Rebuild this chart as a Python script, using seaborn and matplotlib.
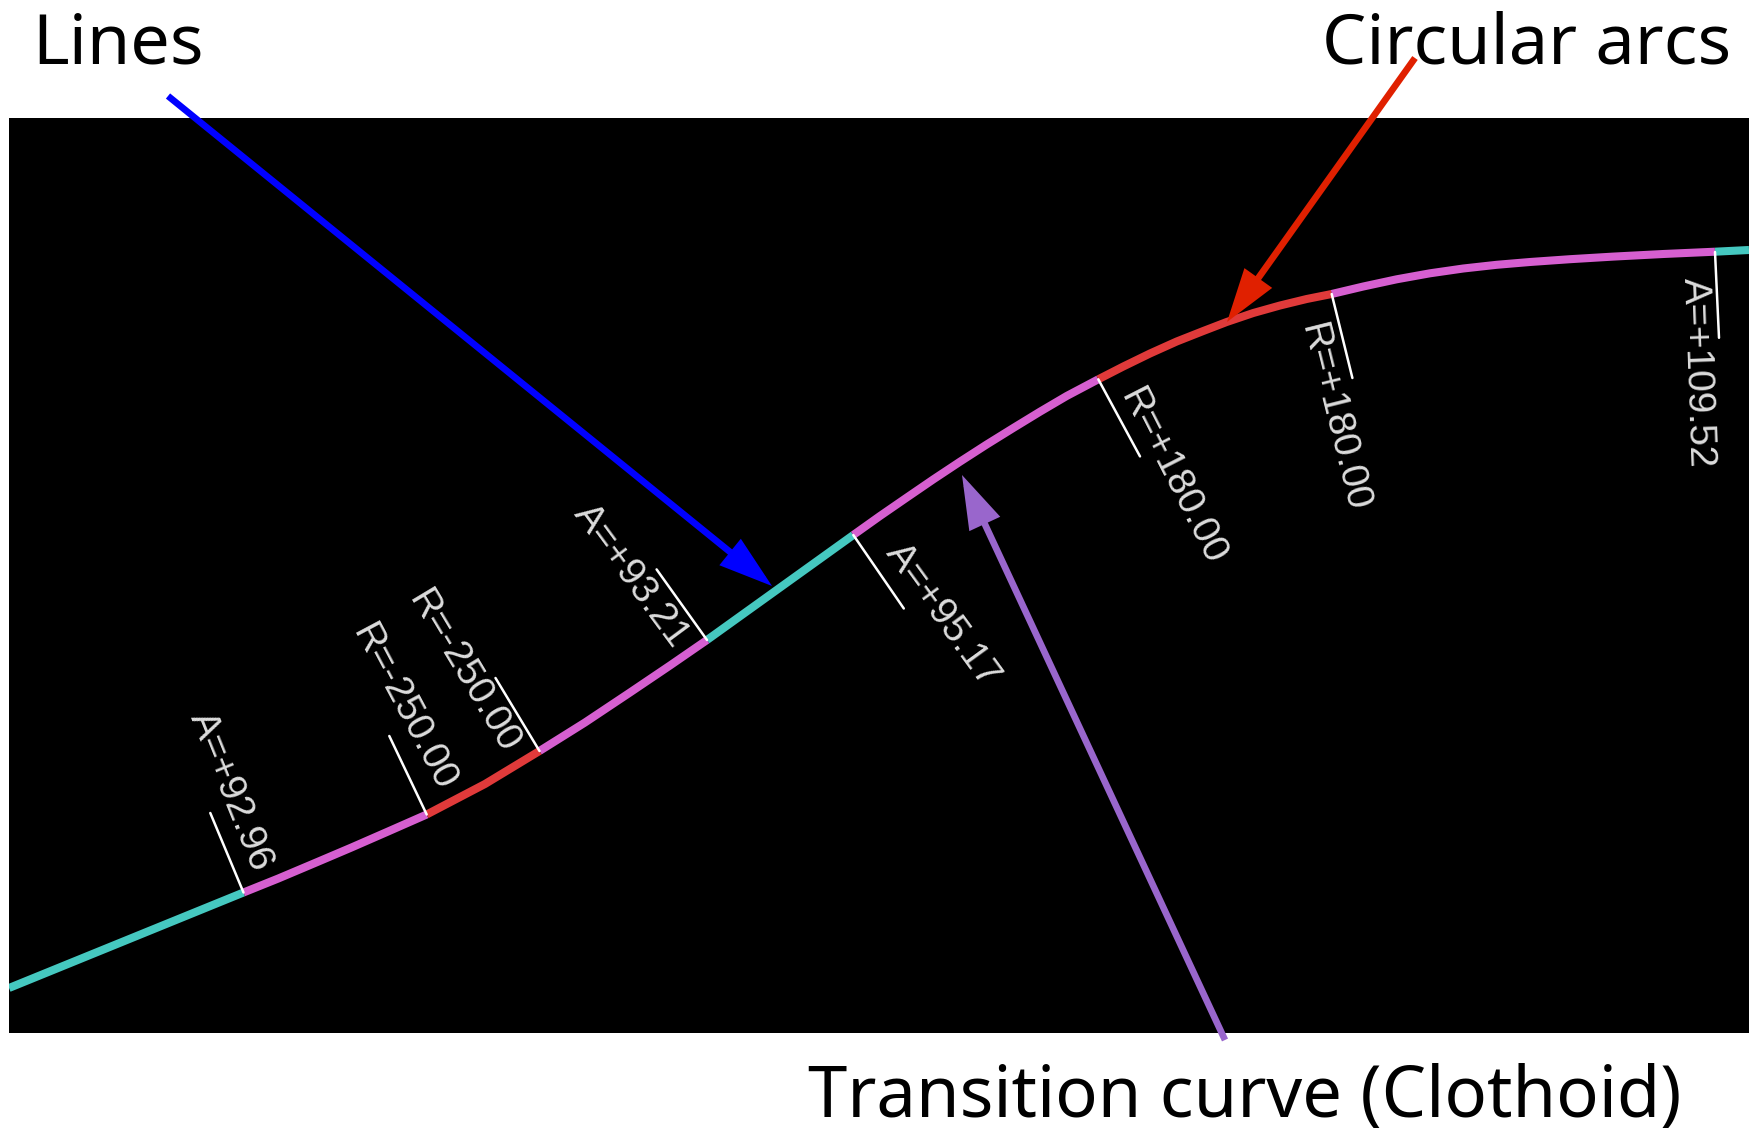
import pandas as pd
from matplotlib import pyplot as plt
import seaborn as sns

seg_kind = ["line", "clothoid", "arc", "clothoid", "line", "clothoid", "arc", "clothoid", "line"]
seg_x = [
    [9, 243.5],
    [243.5, 278.3, 318.3, 351.7, 388.3, 426.7],
    [426.7, 485, 539.5],
    [539.5, 585, 630, 670, 707],
    [707, 853.3],
    [853.3, 880, 906.7, 933.3, 960, 986.7, 1013.3, 1040, 1066.7, 1098.3],
    [1098.3, 1123.3, 1150, 1176.7, 1203.3, 1226.7, 1253.3, 1280, 1306.7, 1331.7],
    [1331.7, 1363.3, 1396.7, 1430, 1463.3, 1496.7, 1530, 1570, 1613.3, 1663.3, 1715],
    [1715, 1749],
]
seg_y = [
    [988, 892.5],
    [892.5, 878.5, 861.6, 847.4, 831.4, 814.5],
    [814.5, 784, 751],
    [751, 722.5, 692.5, 665.5, 640],
    [640, 535],
    [535, 516, 497.6, 479.4, 461.7, 444.5, 428, 411.7, 396, 379.3],
    [379.3, 366.5, 353.5, 341.5, 331, 322, 313, 305.5, 299, 294],
    [294, 286.5, 279.3, 273.3, 268.5, 264.8, 262, 259.2, 256.6, 254, 251.7],
    [251.7, 250],
]

label_text = ["A=+92.96", "R=-250.00", "R=-250.00", "A=+93.21", "A=+95.17", "R=+180.00", "R=+180.00", "A=+109.52"]
label_x = [231, 403, 463, 631, 942, 1172.5, 1334, 1697]
label_y = [791.5, 708, 672, 576, 615, 477, 418, 372.5]
label_rot = [-68, -62, -59, -53.5, -54, -63, -76, -88]
tick_x0 = [243.5, 426.7, 539.5, 707, 853.3, 1098.3, 1331.7, 1715]
tick_y0 = [892.5, 814.5, 751, 640, 535, 379.3, 294, 252]
tick_x1 = [210.3, 389.3, 495.5, 656.6, 903.8, 1140, 1352.4, 1719]
tick_y1 = [813, 736, 678, 569.4, 608.5, 456.4, 378, 337.8]

palette = {"line": "#45c8c0", "clothoid": "#d65fd0", "arc": "#e03a3a"}

rows = []
for i, kind in enumerate(seg_kind):
    for x, y in zip(seg_x[i], seg_y[i]):
        rows.append({"x": x, "y": y, "kind": kind, "segment": i})
curve_df = pd.DataFrame(rows)

sns.set_theme(style="white")
plt.rcParams["font.family"] = ["Noto Sans", "DejaVu Sans"]

fig = plt.figure(figsize=(17.54, 11.33), dpi=100, facecolor="white")
ax = fig.add_axes([9 / 1754, 1 - 1032.5 / 1133, 1740 / 1754, 915 / 1133])
ax.set_facecolor("black")

sns.lineplot(data=curve_df, x="x", y="y", hue="kind", units="segment", estimator=None,
             sort=False, palette=palette, linewidth=5.8, legend=False, ax=ax,
             solid_capstyle="butt")

ax.set_xlim(9, 1749)
ax.set_ylim(1032.5, 117.5)
ax.set_xlabel("")
ax.set_ylabel("")
ax.set_xticks([])
ax.set_yticks([])
sns.despine(ax=ax, left=True, bottom=True)

for x0, y0, x1, y1 in zip(tick_x0, tick_y0, tick_x1, tick_y1):
    ax.plot([x0, x1], [y0, y1], color="white", linewidth=1.8)
for text, x, y, rot in zip(label_text, label_x, label_y, label_rot):
    ax.text(x, y, text, color="#dcdcdc", fontsize=28, family="Liberation Sans",
            rotation=rot, ha="center", va="center", rotation_mode="anchor")

# arrows and captions run over the edge of the black panel
def arrow(start, end, color):
    ax.annotate("", xy=end, xytext=start, annotation_clip=False,
                arrowprops=dict(arrowstyle="-|>,head_length=0.95,head_width=0.3", color=color,
                                linewidth=4.8, mutation_scale=30, shrinkA=0, shrinkB=0,
                                capstyle="butt", joinstyle="miter"))

arrow((168, 96), (772, 586), "#0000ff")
arrow((1415, 58), (1227, 322), "#e02000")
arrow((1225, 1040), (962, 475), "#9966cc")

ax.text(32, 64, "Lines", color="black", fontsize=50.5, family="Noto Sans", clip_on=False)
ax.text(1731, 64, "Circular arcs", color="black", fontsize=50.5, family="Noto Sans", ha="right", clip_on=False)
ax.text(808, 1117, "Transition curve (Clothoid)", color="black", fontsize=50.8, family="Noto Sans", clip_on=False)

plt.savefig("out.png", dpi=100, facecolor="white")
